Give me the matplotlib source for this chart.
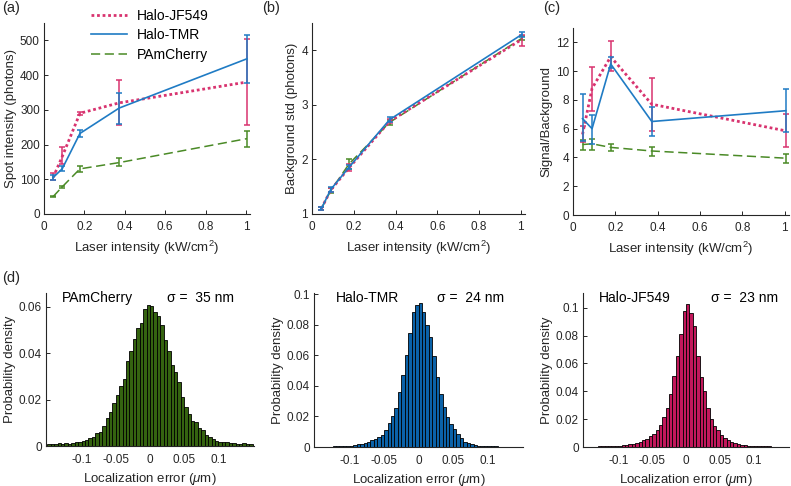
import matplotlib
matplotlib.use('Agg')
import matplotlib.pyplot as plt
import numpy as np

plt.rcParams.update({'font.family': 'Liberation Sans', 'font.size': 9,
                     'axes.unicode_minus': False,
                     'mathtext.fontset': 'custom',
                     'mathtext.rm': 'Liberation Sans',
                     'mathtext.it': 'Liberation Sans:italic'})

# laser intensity (kW/cm^2)
laser = [0.045, 0.09, 0.178, 0.372, 1.005]

# (a) spot intensity (photons): mean, lower, upper
spot_jf = [105, 165, 290, 320, 380]
spot_jf_lo = [97, 145, 285, 255, 257]
spot_jf_hi = [117, 193, 295, 385, 503]
spot_tmr = [105, 130, 232, 305, 447]
spot_tmr_lo = [98, 125, 222, 258, 378]
spot_tmr_hi = [112, 137, 242, 348, 516]
spot_pam = [50, 78, 130, 148, 217]
spot_pam_lo = [48, 74, 122, 137, 193]
spot_pam_hi = [52, 82, 138, 161, 240]

# (b) background std (photons)
bg_jf = [1.10, 1.44, 1.85, 2.70, 4.20]
bg_jf_lo = [1.07, 1.40, 1.79, 2.66, 4.08]
bg_jf_hi = [1.13, 1.48, 1.91, 2.74, 4.28]
bg_tmr = [1.10, 1.45, 1.86, 2.73, 4.29]
bg_tmr_lo = [1.07, 1.41, 1.82, 2.69, 4.25]
bg_tmr_hi = [1.13, 1.49, 1.90, 2.77, 4.33]
bg_pam = [1.10, 1.43, 1.92, 2.68, 4.22]
bg_pam_lo = [1.07, 1.39, 1.83, 2.64, 4.18]
bg_pam_hi = [1.13, 1.47, 2.00, 2.72, 4.26]

# (c) signal / background
sb_jf = [5.6, 8.8, 11.0, 7.7, 5.85]
sb_jf_lo = [5.1, 7.2, 10.0, 5.85, 4.7]
sb_jf_hi = [6.2, 10.3, 12.1, 9.5, 7.05]
sb_tmr = [6.7, 6.0, 10.5, 6.5, 7.25]
sb_tmr_lo = [5.15, 4.95, 10.2, 5.5, 5.75]
sb_tmr_hi = [8.4, 6.95, 11.0, 7.5, 8.75]
sb_pam = [4.9, 4.95, 4.7, 4.45, 3.95]
sb_pam_lo = [4.5, 4.55, 4.45, 4.1, 3.6]
sb_pam_hi = [5.2, 5.3, 4.95, 4.75, 4.25]

# (d) localization error histograms, 60 bins from -0.15 to 0.15 um
hist_pam = [0.0008, 0.0009, 0.0010, 0.0011, 0.0010, 0.0012, 0.0009, 0.0014, 0.0016, 0.0018,
            0.0022, 0.0024, 0.0034, 0.0040, 0.0057, 0.0062, 0.0086, 0.0120, 0.0146, 0.0184,
            0.0220, 0.0260, 0.0290, 0.0366, 0.0410, 0.0460, 0.0510, 0.0530, 0.0590, 0.0610,
            0.0605, 0.0580, 0.0560, 0.0520, 0.0456, 0.0410, 0.0350, 0.0320, 0.0277, 0.0210,
            0.0170, 0.0140, 0.0110, 0.0105, 0.0076, 0.0068, 0.0047, 0.0040, 0.0029, 0.0022,
            0.0019, 0.0016, 0.0016, 0.0012, 0.0012, 0.0010, 0.0009, 0.0011, 0.0010, 0.0007]
hist_tmr = [0.0002, 0.0002, 0.0002, 0.0003, 0.0003, 0.0004, 0.0004, 0.0005, 0.0006, 0.0007,
            0.0009, 0.0013, 0.0017, 0.0020, 0.0028, 0.0035, 0.0046, 0.0054, 0.0065, 0.0078,
            0.0110, 0.0155, 0.0200, 0.0257, 0.0360, 0.0470, 0.0600, 0.0743, 0.0880, 0.0930,
            0.0943, 0.0885, 0.0797, 0.0721, 0.0595, 0.0455, 0.0346, 0.0259, 0.0198, 0.0148,
            0.0115, 0.0085, 0.0057, 0.0035, 0.0024, 0.0017, 0.0013, 0.0009, 0.0008, 0.0006,
            0.0005, 0.0004, 0.0004, 0.0003, 0.0003, 0.0002, 0.0002, 0.0002, 0.0001, 0.0001]
hist_jf = [0.0002, 0.0002, 0.0003, 0.0003, 0.0004, 0.0004, 0.0005, 0.0006, 0.0007, 0.0008,
           0.0010, 0.0012, 0.0015, 0.0019, 0.0024, 0.0029, 0.0036, 0.0048, 0.0060, 0.0079,
           0.0091, 0.0125, 0.0160, 0.0216, 0.0280, 0.0380, 0.0510, 0.0650, 0.0815, 0.0980,
           0.1026, 0.0960, 0.0870, 0.0650, 0.0500, 0.0400, 0.0280, 0.0200, 0.0150, 0.0120,
           0.0085, 0.0062, 0.0048, 0.0035, 0.0026, 0.0020, 0.0015, 0.0012, 0.0010, 0.0008,
           0.0007, 0.0006, 0.0005, 0.0004, 0.0004, 0.0003, 0.0003, 0.0002, 0.0002, 0.0002]

c_jf = '#d8336f'
c_tmr = '#1f7bc4'
c_pam = '#4a8a26'
h_jf = '#c2185b'
h_tmr = '#0b62a8'
h_pam = '#356310'
axc = '#262626'

fig = plt.figure(figsize=(7.91, 4.86), dpi=100)


def style(ax):
    for s in ['top', 'right']:
        ax.spines[s].set_visible(False)
    for s in ['left', 'bottom']:
        ax.spines[s].set_color(axc)
        ax.spines[s].set_linewidth(0.8)
    ax.tick_params(direction='in', length=3, width=0.7, colors=axc, labelsize=8.5, pad=3)
    ax.tick_params(axis='x', pad=5)
    ax.xaxis.set_major_formatter(plt.FuncFormatter(lambda v, p: f'{v:g}'))
    ax.yaxis.set_major_formatter(plt.FuncFormatter(lambda v, p: f'{v:g}'))


def series(ax, y, lo, hi, color, ls, lw, label):
    y = np.array(y)
    yerr = [y - np.array(lo), np.array(hi) - y]
    ax.plot(laser, y, ls=ls, color=color, lw=lw, label=label)
    ax.errorbar(laser, y, yerr=yerr, fmt='none', ecolor=color, elinewidth=1.1,
                capsize=2.5, capthick=1.1)


top_pos = [[44, 23, 250, 214], [312, 23, 525, 214], [573, 28, 789, 215]]
bot_pos = [[46, 293, 254, 446], [314, 293, 523, 447], [583, 293, 789, 447]]


def add_ax(p):
    l, t, r, b = p
    return fig.add_axes([l / 791, 1 - b / 486, (r - l) / 791, (b - t) / 486])


axa, axb, axc_ = [add_ax(p) for p in top_pos]
for ax, d, ylab, ylim, yt in [
        (axa, (spot_jf, spot_jf_lo, spot_jf_hi, spot_tmr, spot_tmr_lo, spot_tmr_hi,
               spot_pam, spot_pam_lo, spot_pam_hi), 'Spot intensity (photons)', (0, 550), np.arange(0, 501, 100)),
        (axb, (bg_jf, bg_jf_lo, bg_jf_hi, bg_tmr, bg_tmr_lo, bg_tmr_hi,
               bg_pam, bg_pam_lo, bg_pam_hi), 'Background std (photons)', (1, 4.5), [1, 2, 3, 4]),
        (axc_, (sb_jf, sb_jf_lo, sb_jf_hi, sb_tmr, sb_tmr_lo, sb_tmr_hi,
                sb_pam, sb_pam_lo, sb_pam_hi), 'Signal/Background', (0, 13), np.arange(0, 13, 2))]:
    style(ax)
    series(ax, d[6], d[7], d[8], c_pam, (0, (6, 3)), 1.1, 'PAmCherry')
    series(ax, d[0], d[1], d[2], c_jf, (0, (1, 1)), 2.0, 'Halo-JF549')
    series(ax, d[3], d[4], d[5], c_tmr, '-', 1.2, 'Halo-TMR')
    ax.set_xlim(0, 1.02)
    ax.set_xticks([0, 0.2, 0.4, 0.6, 0.8, 1])
    ax.set_ylim(*ylim)
    ax.set_yticks(yt)
    ax.set_xlabel('Laser intensity (kW/cm$^{2}$)', fontsize=9.5, color=axc, labelpad=4)
    ax.set_ylabel(ylab, fontsize=9.5, color=axc, labelpad=2)

handles, labels = axa.get_legend_handles_labels()
order = [1, 2, 0]
axa.legend([handles[i] for i in order], [labels[i] for i in order],
           loc='upper left', bbox_to_anchor=(0.2, 1.105), frameon=False,
           fontsize=10, handlelength=2.6, labelspacing=0.42, handletextpad=0.7,
           borderaxespad=0)

edges = np.linspace(-0.15, 0.15, 61)
centers = (edges[:-1] + edges[1:]) / 2
for p, h, col, name, sig, ylim, yt, sx in [
        (bot_pos[0], hist_pam, h_pam, 'PAmCherry', 35, 0.066, [0, 0.02, 0.04, 0.06], 0.58),
        (bot_pos[1], hist_tmr, h_tmr, 'Halo-TMR', 24, 0.1007, np.arange(0, 0.101, 0.02), 0.59),
        (bot_pos[2], hist_jf, h_jf, 'Halo-JF549', 23, 0.1106, np.arange(0, 0.101, 0.02), 0.62)]:
    ax = add_ax(p)
    style(ax)
    ax.bar(centers, h, width=0.005, color=col, edgecolor='black', linewidth=0.6)
    ax.set_xlim(-0.152, 0.152)
    ax.set_ylim(0, ylim)
    ax.set_yticks(yt)
    ax.set_xticks([-0.1, -0.05, 0, 0.05, 0.1])
    ax.tick_params(axis='x', length=0, pad=6)
    ax.set_xlabel('Localization error ($\\mu$m)', fontsize=9.5, color=axc, labelpad=3)
    ax.set_ylabel('Probability density', fontsize=9.5, color=axc, labelpad=2)
    tx = 0.075 if name != 'Halo-TMR' else 0.105
    ax.text(tx, 0.97, name, transform=ax.transAxes, fontsize=10, va='center', color='black')
    ax.text(sx, 0.97, f'\u03c3 =  {sig} nm', transform=ax.transAxes, fontsize=10,
            va='center', color='black')

for lab, x, y in [('(a)', 2, 8), ('(b)', 262, 8), ('(c)', 543, 8), ('(d)', 2, 278)]:
    fig.text(x / 791, 1 - y / 486, lab, fontsize=10.5, va='center', ha='left', color=axc)

fig.savefig('out.png', dpi=100)
